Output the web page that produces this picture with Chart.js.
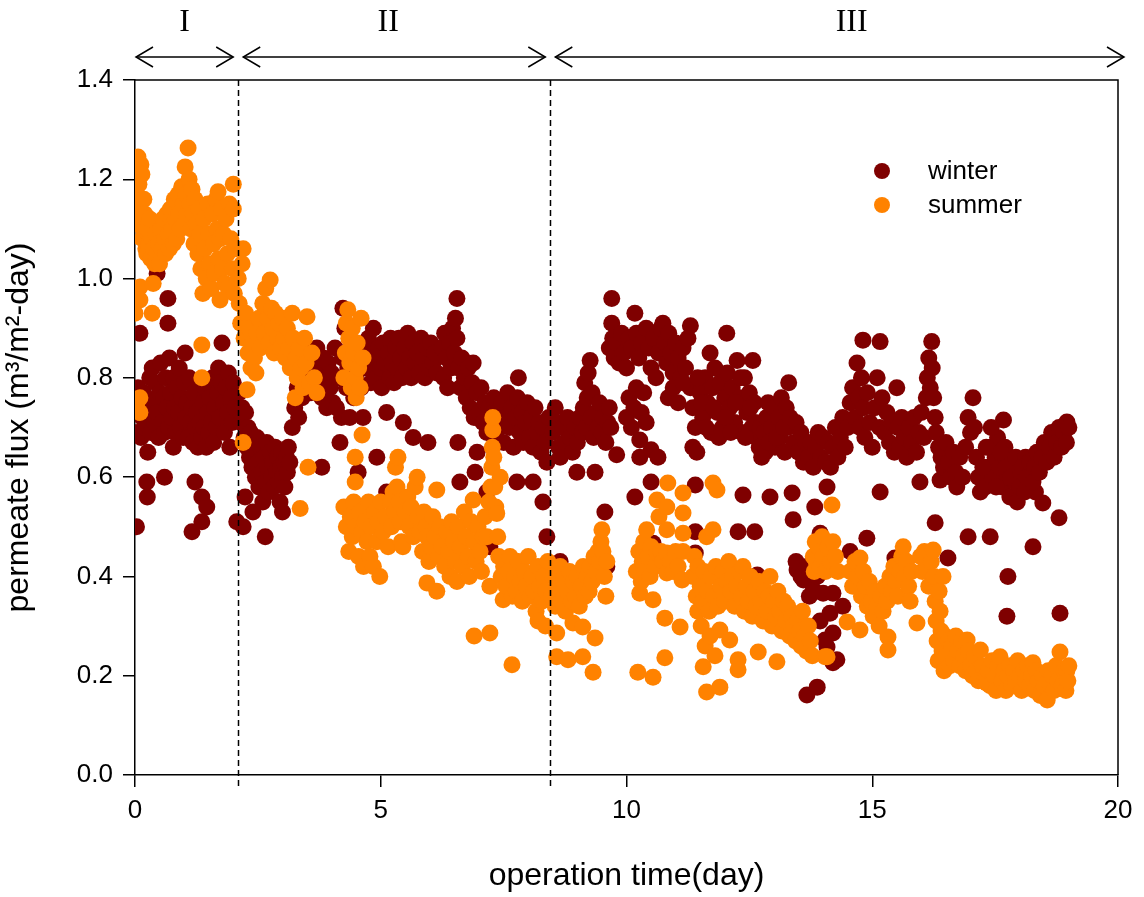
<!DOCTYPE html>
<html>
<head>
<meta charset="utf-8">
<script src="https://cdn.jsdelivr.net/npm/chart.js@4"></script>
<style>
  body { margin: 0; background: #fff; }
  canvas { display: block; }
</style>
</head>
<body>
<canvas id="fluxChart" width="1144" height="897"></canvas>
<script>
// stage boundaries (day) and labels
const stageBounds = [0, 2.1, 8.45, 20];
const stageNames = ["I", "II", "III"];
const xTicks = [0, 5, 10, 15, 20];
const yTicks = [0, 0.2, 0.4, 0.6, 0.8, 1.0, 1.2, 1.4];

// winter [day, flux]
const winterI = [[0.03,0.50],[0.05,0.69],[0.06,0.78],[0.1,0.89],[0.1,0.74],[0.12,0.68],[0.15,0.72],[0.18,0.77],[0.2,0.70],[0.24,0.59],[0.25,0.56],[0.26,0.65],[0.28,0.74],[0.3,0.80],[0.32,0.69],[0.35,0.82],[0.37,0.75],[0.4,0.71],[0.42,0.79],[0.45,1.01],[0.45,0.73],[0.48,0.68],[0.5,0.77],[0.52,0.83],[0.55,0.71],[0.58,0.76],[0.6,0.60],[0.6,0.69],[0.62,0.80],[0.65,0.74],[0.67,0.96],[0.67,0.91],[0.68,0.70],[0.7,0.84],[0.72,0.77],[0.75,0.72],[0.78,0.66],[0.78,0.80],[0.8,0.74],[0.82,0.69],[0.85,0.78],[0.88,0.73],[0.9,0.82],[0.92,0.70],[0.95,0.76],[0.98,0.68],[1.0,0.79],[1.02,0.85],[1.03,0.72],[1.05,0.75],[1.08,0.68],[1.1,0.80],[1.12,0.71],[1.15,0.74],[1.16,0.49],[1.18,0.67],[1.2,0.77],[1.22,0.59],[1.23,0.70],[1.25,0.73],[1.28,0.66],[1.3,0.79],[1.32,0.71],[1.35,0.68],[1.36,0.51],[1.36,0.56],[1.38,0.75],[1.4,0.70],[1.42,0.78],[1.45,0.66],[1.46,0.54],[1.48,0.73],[1.5,0.69],[1.52,0.76],[1.55,0.71],[1.58,0.80],[1.6,0.67],[1.62,0.74],[1.65,0.70],[1.68,0.77],[1.7,0.82],[1.72,0.72],[1.75,0.79],[1.77,0.87],[1.8,0.75],[1.82,0.69],[1.85,0.78],[1.88,0.73],[1.9,0.81],[1.93,0.66],[1.95,0.76],[1.98,0.71],[2.0,0.79],[2.03,0.74],[2.07,0.51]];

const winterII = [[2.12,0.77],[2.15,0.71],[2.18,0.74],[2.2,0.50],[2.22,0.68],[2.24,0.56],[2.25,0.73],[2.28,0.66],[2.3,0.70],[2.33,0.64],[2.35,0.69],[2.38,0.62],[2.4,0.53],[2.4,0.67],[2.43,0.65],[2.45,0.60],[2.48,0.68],[2.5,0.63],
  [2.52,0.58],[2.55,0.66],[2.58,0.61],[2.6,0.55],[2.62,0.64],[2.65,0.48],[2.65,0.59],[2.68,0.67],[2.7,0.62],[2.72,0.57],[2.75,0.65],[2.78,0.60],[2.8,0.63],[2.83,0.58],[2.85,0.66],[2.88,0.61],[2.9,0.64],[2.93,0.59],[2.95,0.55],[2.96,0.62],[2.98,0.65],[3.0,0.53],[3.0,0.60],[3.03,0.63],[3.05,0.58],[3.08,0.64],[3.1,0.61],[3.12,0.66],[3.15,0.63],
  [3.2,0.70],[3.25,0.74],[3.3,0.78],[3.33,0.72],[3.37,0.80],[3.4,0.76],[3.45,0.83],[3.48,0.79],[3.52,0.85],[3.55,0.81],[3.58,0.77],[3.62,0.84],[3.65,0.80],[3.7,0.86],[3.72,0.78],[3.75,0.82],[3.8,0.62],[3.8,0.76],[3.83,0.84],[3.87,0.80],[3.9,0.74],[3.93,0.83],[3.97,0.78],[4.0,0.81],[4.03,0.75],[4.07,0.86],[4.1,0.74],[4.12,0.80],[4.17,0.67],[4.2,0.72],[4.22,0.84],[4.23,0.94],[4.27,0.90],[4.3,0.78],[4.33,0.82],[4.37,0.72],[4.4,0.86],[4.45,0.76],[4.5,0.80],[4.54,0.61],[4.55,0.84],[4.6,0.78],[4.64,0.72],[4.65,0.86],
  [4.7,0.82],[4.75,0.88],[4.8,0.79],[4.85,0.90],[4.88,0.84],[4.92,0.64],[4.92,0.80],[4.95,0.86],[5.0,0.82],[5.02,0.78],[5.05,0.87],[5.08,0.83],[5.12,0.73],[5.12,0.57],[5.15,0.85],[5.18,0.80],[5.2,0.88],[5.23,0.83],[5.27,0.79],[5.3,0.86],[5.33,0.82],[5.37,0.88],[5.4,0.84],[5.43,0.80],[5.46,0.71],[5.48,0.86],[5.52,0.82],[5.55,0.89],[5.58,0.84],[5.62,0.80],[5.66,0.68],[5.66,0.87],[5.7,0.83],[5.74,0.85],[5.78,0.81],[5.82,0.88],[5.86,0.84],[5.9,0.80],[5.94,0.86],[5.96,0.67],[5.98,0.82],[6.02,0.87],[6.06,0.83],[6.1,0.85],[6.14,0.81],
  [6.25,0.86],[6.28,0.80],[6.3,0.89],[6.33,0.84],[6.36,0.78],[6.4,0.87],[6.43,0.82],[6.46,0.90],[6.5,0.85],[6.52,0.92],[6.55,0.96],[6.55,0.88],[6.57,0.67],[6.58,0.82],[6.61,0.59],[6.62,0.78],[6.65,0.84],
  [6.7,0.80],[6.74,0.76],[6.78,0.82],[6.82,0.74],[6.86,0.79],[6.88,0.83],[6.9,0.72],[6.92,0.61],[6.95,0.77],[6.96,0.65],[7.0,0.73],[7.04,0.78],[7.08,0.71],[7.12,0.75],[7.16,0.57],[7.16,0.69],[7.2,0.74],[7.22,0.46],[7.25,0.70],[7.3,0.76],[7.34,0.68],[7.38,0.73],[7.42,0.70],[7.46,0.75],[7.5,0.67],[7.54,0.72],[7.58,0.77],[7.62,0.70],[7.66,0.74],[7.7,0.66],[7.74,0.72],[7.77,0.59],[7.78,0.76],[7.8,0.80],[7.83,0.69],[7.87,0.73],[7.9,0.67],[7.94,0.71],[7.98,0.75],[8.02,0.68],[8.06,0.72],[8.1,0.59],[8.1,0.66],[8.14,0.74],[8.18,0.69],[8.22,0.71],[8.26,0.65],[8.3,0.55],[8.3,0.70],[8.34,0.67],[8.38,0.63],[8.38,0.48],[8.42,0.72]];

const winterIII = [[8.5,0.69],[8.55,0.74],[8.58,0.71],[8.62,0.66],[8.65,0.64],[8.65,0.43],[8.7,0.70],[8.75,0.67],[8.8,0.72],[8.85,0.68],[8.9,0.65],[8.95,0.70],[8.99,0.61],[9.0,0.67],[9.05,0.72],[9.1,0.69],
  [9.12,0.74],[9.15,0.79],[9.18,0.70],[9.2,0.76],[9.22,0.81],[9.26,0.835],[9.28,0.72],[9.3,0.77],[9.33,0.68],[9.36,0.61],[9.38,0.73],[9.42,0.70],[9.45,0.75],[9.5,0.69],[9.52,0.72],[9.56,0.53],[9.58,0.67],[9.6,0.42],[9.62,0.71],[9.65,0.74],[9.68,0.70],
  [9.65,0.86],[9.7,0.96],[9.7,0.91],[9.72,0.88],[9.75,0.84],[9.8,0.645],[9.8,0.87],[9.85,0.83],[9.9,0.89],[9.95,0.85],[10.0,0.82],[10.05,0.88],[10.1,0.86],[10.17,0.93],[10.17,0.56],[10.2,0.89],[10.25,0.84],[10.27,0.64],[10.27,0.675],[10.3,0.87],
  [10.0,0.72],[10.05,0.76],[10.1,0.70],[10.15,0.74],[10.2,0.78],[10.3,0.73],[10.35,0.77],[10.4,0.71],
  [10.4,0.90],[10.45,0.86],[10.5,0.82],[10.5,0.655],[10.5,0.59],[10.54,0.467],[10.55,0.88],[10.6,0.80],[10.64,0.64],[10.65,0.85],[10.7,0.90],[10.74,0.91],[10.78,0.87],[10.82,0.83],[10.86,0.89],[10.9,0.85],[10.95,0.81],[11.0,0.87],[11.05,0.84],[11.1,0.80],[11.15,0.86],[11.2,0.82],[11.25,0.88],[11.3,0.905],[11.3,0.78],[11.35,0.74],[11.35,0.66],[11.4,0.70],[11.4,0.584],[11.4,0.49],[11.4,0.447],[11.43,0.65],
  [10.85,0.76],[10.95,0.78],[11.05,0.75],[11.15,0.79],
  [11.5,0.77],[11.55,0.72],[11.6,0.80],[11.65,0.75],[11.7,0.85],[11.72,0.69],[11.75,0.78],[11.8,0.82],[11.85,0.73],[11.9,0.79],[11.95,0.70],[12.0,0.76],[12.04,0.89],[12.05,0.81],[12.1,0.74],[12.15,0.78],[12.2,0.71],[12.25,0.835],[12.27,0.49],[12.3,0.76],[12.35,0.69],[12.37,0.564],[12.4,0.80],[12.45,0.73],[12.5,0.77],[12.55,0.70],[12.57,0.835],[12.6,0.75],[12.61,0.49],[12.65,0.68],[12.66,0.403],[12.7,0.66],
  [11.45,0.80],[11.52,0.75],[11.62,0.70],[11.78,0.74],[11.88,0.68],[12.02,0.72],[12.12,0.69],[12.22,0.75],[12.32,0.80],[12.42,0.68],[12.52,0.74],[12.62,0.71],[12.72,0.70],[12.82,0.65],[12.88,0.75],[13.02,0.66],[13.12,0.68],[13.22,0.65],[13.28,0.70],
  [12.75,0.64],[12.8,0.69],[12.85,0.72],[12.9,0.67],[12.92,0.56],[12.95,0.70],[13.0,0.74],[13.05,0.68],[13.1,0.72],[13.15,0.76],[13.2,0.70],[13.25,0.74],[13.3,0.79],[13.33,0.72],[13.37,0.568],[13.39,0.514],[13.4,0.67],[13.45,0.71],[13.47,0.413],[13.5,0.65],[13.55,0.69],[13.6,0.63],[13.6,0.393],[13.65,0.67],[13.67,0.161],[13.7,0.64],
  [13.45,0.43],[13.55,0.40],[13.67,0.42],[13.72,0.36],[13.8,0.373],[13.88,0.40],[13.94,0.31],[14.0,0.366],[14.08,0.258],[14.2,0.366],[14.2,0.286],[14.28,0.232],[14.4,0.34],
  [13.75,0.67],[13.8,0.62],[13.83,0.54],[13.85,0.66],[13.88,0.177],[13.9,0.69],[13.94,0.487],[13.95,0.64],[14.0,0.68],[14.04,0.272],[14.05,0.63],[14.08,0.58],[14.1,0.67],[14.14,0.326],[14.15,0.62],[14.2,0.226],[14.2,0.66],[14.25,0.70],[14.3,0.64],[14.35,0.68],[14.4,0.72],[14.45,0.66],[14.5,0.70],[14.55,0.45],[14.55,0.75],
  [14.6,0.78],[14.65,0.72],[14.69,0.83],[14.72,0.76],[14.75,0.70],[14.78,0.80],[14.81,0.876],[14.82,0.74],[14.85,0.68],[14.89,0.477],[14.9,0.77],[14.95,0.71],[15.0,0.66],[15.05,0.74],[15.1,0.80],[15.15,0.70],[15.16,0.873],[15.16,0.57],[15.2,0.76],
  [15.25,0.69],[15.3,0.73],[15.35,0.67],[15.4,0.71],[15.46,0.437],[15.45,0.65],[15.5,0.78],[15.52,0.70],[15.55,0.66],[15.6,0.72],[15.65,0.68],[15.7,0.64],[15.75,0.70],[15.8,0.67],[15.85,0.72],[15.9,0.65],[15.95,0.69],[15.97,0.59],[16.0,0.73],[16.05,0.68],[16.1,0.76],
  [16.12,0.80],[16.15,0.84],[16.18,0.78],[16.21,0.873],[16.22,0.82],[16.25,0.76],[16.28,0.508],[16.28,0.72],[16.3,0.69],[16.35,0.66],[16.38,0.594],[16.4,0.64],
  [16.45,0.62],[16.5,0.67],[16.54,0.437],[16.55,0.63],[16.6,0.60],[16.65,0.65],[16.7,0.61],[16.72,0.58],[16.78,0.64],[16.84,0.60],[16.9,0.66],[16.95,0.72],[16.95,0.48],[17.0,0.69],[17.05,0.76],[17.08,0.70],[17.12,0.64],[17.16,0.60],[17.2,0.57],
  [17.3,0.58],[17.35,0.62],[17.4,0.48],[17.4,0.66],[17.45,0.60],[17.5,0.64],[17.55,0.68],[17.6,0.62],[17.65,0.58],[17.67,0.715],[17.7,0.66],[17.74,0.32],[17.75,0.60],[17.76,0.40],[17.8,0.56],[17.85,0.63],[17.9,0.59],[17.95,0.55],
  [17.25,0.62],[17.32,0.66],[17.42,0.70],[17.52,0.58],[17.62,0.65],[17.72,0.62],[17.82,0.60],[17.92,0.64],[18.02,0.61],[18.12,0.64],[18.22,0.58],[18.32,0.57],
  [18.0,0.58],[18.05,0.62],[18.1,0.57],[18.15,0.60],[18.2,0.63],[18.27,0.46],[18.27,0.59],[18.3,0.62],[18.35,0.65],[18.4,0.61],[18.45,0.64],[18.47,0.548],[18.5,0.67],[18.55,0.63],[18.6,0.66],[18.65,0.69],[18.7,0.64],[18.75,0.67],[18.8,0.518],[18.8,0.70],[18.82,0.326],[18.85,0.66],[18.9,0.69],[18.96,0.711],[18.95,0.67],[19.0,0.70]];

// summer [day, flux]
const summerI = [[0.0,0.93],[0.02,1.17],[0.03,1.21],[0.04,0.75],[0.05,1.14],[0.06,1.245],[0.08,1.19],[0.1,0.983],[0.1,0.957],[0.1,0.76],[0.1,0.73],[0.1,1.11],[0.12,1.23],[0.14,1.21],[0.15,1.08],[0.17,1.098],[0.18,1.16],[0.2,1.13],[0.22,1.06],[0.24,1.05],[0.25,1.10],[0.28,1.07],[0.3,1.12],[0.32,1.04],[0.35,0.93],[0.35,1.08],[0.37,0.99],[0.38,1.06],[0.4,1.03],[0.42,1.09],[0.45,1.05],[0.48,1.07],[0.5,1.03],[0.52,1.10],[0.55,1.06],[0.57,1.12],[0.6,1.08],[0.62,1.05],[0.65,1.13],[0.68,1.09],[0.7,1.06],[0.72,1.14],[0.75,1.10],[0.78,1.07],[0.8,1.16],[0.82,1.12],[0.85,1.08],[0.88,1.17],[0.9,1.13],[0.92,1.10],[0.95,1.185],[0.98,1.15],[1.0,1.11],[1.02,1.225],[1.04,1.17],[1.06,1.13],[1.08,1.263],[1.1,1.20],[1.12,1.15],[1.14,1.10],[1.16,1.18],[1.18,1.13],[1.2,1.07],[1.22,1.16],[1.25,1.11],[1.28,1.05],[1.3,1.14],[1.32,1.09],[1.34,1.02],[1.36,0.866],[1.36,0.80],[1.38,0.97],[1.4,1.12],[1.42,1.06],[1.45,1.00],[1.48,1.15],[1.5,1.09],[1.52,1.03],[1.55,0.98],[1.58,1.13],[1.6,1.07],[1.62,1.01],[1.65,1.16],[1.67,1.10],[1.69,1.175],[1.7,1.04],[1.73,0.957],[1.73,1.08],[1.76,1.14],[1.78,1.02],[1.8,1.09],[1.83,0.99],[1.85,1.12],[1.88,1.05],[1.9,0.98],[1.92,1.15],[1.95,1.08],[1.98,1.02],[2.0,1.19],[2.0,1.14],[2.02,0.97],[2.05,1.06]];

const summerII = [[2.1,1.00],[2.12,0.95],[2.15,0.91],[2.18,1.03],[2.2,1.06],[2.2,0.67],[2.22,0.88],[2.25,0.93],[2.28,0.776],[2.3,0.85],[2.33,0.90],[2.36,0.82],[2.4,0.87],[2.43,0.84],[2.46,0.81],[2.48,0.89],
  [2.52,0.92],[2.55,0.86],[2.6,0.95],[2.63,0.89],[2.66,0.98],[2.7,0.92],[2.73,0.87],[2.75,0.997],[2.78,0.94],[2.8,0.90],[2.83,0.85],[2.86,0.93],[2.9,0.88],[2.93,0.91],[2.96,0.86],[3.0,0.92],[3.03,0.88],[3.06,0.84],[3.1,0.90],[3.13,0.86],[3.16,0.82],[3.2,0.93],[3.22,0.88],[3.26,0.76],[3.28,0.84],[3.3,0.80],
  [3.34,0.86],[3.36,0.537],[3.38,0.82],[3.42,0.78],[3.45,0.88],[3.48,0.83],[3.5,0.923],[3.52,0.62],[3.55,0.79],[3.6,0.85],[3.65,0.80],[3.7,0.77],
  [4.25,0.80],[4.28,0.85],[4.3,0.91],[4.33,0.937],[4.35,0.88],[4.37,0.83],[4.4,0.78],[4.42,0.90],[4.45,0.85],[4.48,0.80],[4.5,0.76],[4.52,0.87],[4.55,0.82],[4.58,0.78],[4.6,0.92],[4.62,0.685],[4.64,0.84],
  [4.25,0.54],[4.3,0.50],[4.35,0.45],[4.38,0.52],[4.42,0.48],[4.45,0.55],[4.48,0.64],[4.48,0.59],[4.5,0.50],[4.55,0.44],[4.58,0.53],[4.62,0.49],[4.65,0.42],[4.68,0.51],[4.72,0.47],[4.75,0.55],[4.78,0.44],[4.8,0.50],[4.85,0.42],[4.88,0.53],[4.92,0.47],[4.95,0.51],[4.98,0.40],[5.0,0.55],[5.05,0.49],[5.1,0.52],[5.15,0.46],[5.2,0.55],[5.22,0.50],[5.25,0.57],[5.28,0.53],[5.3,0.62],[5.33,0.58],[5.35,0.64],[5.38,0.55],[5.4,0.51],[5.42,0.47],[5.45,0.46],[5.5,0.53],[5.55,0.56],[5.58,0.50],[5.62,0.54],[5.66,0.48],[5.7,0.58],[5.74,0.60],[5.76,0.52],[5.8,0.49],[5.85,0.45],[5.88,0.53],[5.92,0.50],[5.94,0.48],[5.94,0.387],[5.98,0.43],[6.02,0.46],[6.06,0.52],[6.1,0.48],[6.14,0.574],[6.14,0.37],[6.18,0.44],[6.2,0.50],[6.25,0.46],
  [6.3,0.42],[6.34,0.49],[6.38,0.45],[6.41,0.40],[6.44,0.51],[6.48,0.47],[6.52,0.43],[6.55,0.39],[6.58,0.50],[6.62,0.46],[6.66,0.42],[6.7,0.53],[6.74,0.48],[6.78,0.44],[6.8,0.40],[6.84,0.51],[6.88,0.554],[6.9,0.47],[6.9,0.28],[6.94,0.43],[6.98,0.50],[7.02,0.45],[7.05,0.41],[7.08,0.48],
  [7.12,0.52],[7.16,0.48],[7.2,0.55],[7.22,0.38],[7.22,0.286],[7.24,0.58],[7.26,0.62],[7.27,0.66],[7.28,0.695],[7.28,0.72],[7.3,0.64],[7.32,0.58],[7.34,0.54],[7.36,0.527],[7.38,0.48],[7.4,0.44],[7.43,0.60],
  [7.45,0.40],[7.49,0.353],[7.5,0.42],[7.55,0.38],[7.6,0.41],[7.63,0.44],[7.67,0.222],[7.68,0.36],[7.72,0.40],[7.76,0.37],[7.8,0.43],[7.84,0.39],[7.88,0.35],[7.92,0.41],[7.96,0.38],[8.0,0.44],[8.04,0.36],[8.08,0.40],[8.12,0.37],[8.16,0.33],[8.2,0.42],[8.2,0.31],[8.24,0.38],[8.28,0.35],[8.32,0.40],[8.35,0.30],[8.36,0.37],[8.4,0.43]];

const summerIII = [[8.48,0.36],[8.5,0.40],[8.55,0.34],[8.58,0.286],[8.58,0.238],[8.6,0.38],[8.65,0.42],[8.68,0.35],[8.72,0.39],[8.76,0.33],[8.8,0.37],[8.81,0.232],[8.84,0.41],[8.88,0.35],[8.91,0.306],[8.92,0.39],[8.96,0.36],[9.0,0.40],[9.04,0.34],[9.08,0.38],[9.11,0.298],[9.11,0.238],[9.12,0.42],[9.16,0.36],[9.2,0.40],[9.24,0.37],[9.26,0.42],[9.3,0.39],[9.32,0.207],[9.34,0.44],[9.36,0.276],[9.38,0.41],[9.42,0.45],[9.46,0.43],[9.48,0.47],[9.5,0.494],[9.52,0.45],[9.55,0.40],[9.58,0.36],[9.6,0.43],
  [10.2,0.41],[10.23,0.207],[10.25,0.45],[10.27,0.366],[10.3,0.39],[10.32,0.43],[10.35,0.47],[10.38,0.41],[10.41,0.494],[10.44,0.44],[10.48,0.40],[10.5,0.46],[10.54,0.353],[10.54,0.197],[10.58,0.42],[10.62,0.554],[10.62,0.447],[10.66,0.52],[10.7,0.45],[10.74,0.43],[10.78,0.316],[10.78,0.236],[10.82,0.447],[10.82,0.494],[10.82,0.54],[10.82,0.407],[10.84,0.588],[10.9,0.43],[10.95,0.41],[11.0,0.45],[11.05,0.42],[11.09,0.298],[11.13,0.393],[11.15,0.568],[11.15,0.528],[11.15,0.487],[11.15,0.45],
  [11.35,0.40],[11.38,0.44],[11.42,0.36],[11.45,0.33],[11.45,0.42],[11.5,0.38],[11.52,0.30],[11.55,0.35],[11.56,0.218],[11.58,0.41],[11.6,0.26],[11.63,0.48],[11.63,0.167],[11.65,0.37],[11.68,0.33],[11.7,0.28],[11.72,0.40],[11.76,0.588],[11.76,0.494],[11.78,0.36],[11.8,0.24],[11.82,0.42],[11.84,0.574],[11.86,0.34],[11.9,0.292],[11.9,0.177],[11.92,0.38],[11.96,0.41],[12.0,0.35],[12.04,0.39],[12.08,0.43],[12.1,0.272],
  [12.12,0.37],[12.16,0.40],[12.2,0.34],[12.24,0.38],[12.27,0.232],[12.27,0.212],[12.3,0.41],[12.34,0.36],[12.37,0.42],[12.4,0.33],[12.44,0.38],[12.48,0.35],[12.52,0.40],[12.56,0.32],[12.6,0.37],[12.64,0.34],[12.68,0.248],[12.7,0.39],[12.74,0.35],[12.78,0.31],[12.82,0.37],[12.86,0.33],[12.9,0.36],[12.92,0.40],[12.96,0.30],[13.0,0.35],[13.04,0.32],[13.06,0.228],[13.08,0.37],[13.12,0.33],[13.16,0.29],[13.2,0.35],[13.24,0.31],[13.28,0.34],[13.32,0.28],[13.36,0.32],[13.4,0.30],[13.44,0.27],[13.48,0.31],
  [13.52,0.29],[13.55,0.26],[13.58,0.33],[13.62,0.28],[13.66,0.25],[13.7,0.30],[13.74,0.27],[13.78,0.24],[13.8,0.44],[13.82,0.41],[13.84,0.47],[13.86,0.43],[13.9,0.46],[13.94,0.42],[13.98,0.48],[14.0,0.44],[14.04,0.238],[14.05,0.41],[14.08,0.238],[14.1,0.46],[14.15,0.43],[14.18,0.544],[14.2,0.47],[14.25,0.44],[14.3,0.41],
  [14.49,0.308],[14.55,0.41],[14.6,0.38],[14.65,0.43],[14.7,0.40],[14.75,0.437],[14.75,0.292],[14.78,0.36],[14.82,0.41],[14.86,0.38],[14.9,0.34],[14.94,0.39],[14.98,0.35],[15.02,0.32],[15.06,0.37],[15.1,0.34],[15.14,0.30],[15.18,0.36],[15.22,0.33],[15.26,0.38],[15.3,0.35],[15.32,0.278],[15.32,0.252],[15.36,0.40],[15.4,0.37],[15.44,0.42],[15.48,0.39],[15.52,0.36],[15.56,0.41],[15.6,0.44],[15.63,0.46],[15.66,0.40],[15.7,0.43],[15.74,0.38],[15.77,0.35],[15.8,0.41],[15.91,0.306],
  [15.98,0.44],[16.02,0.41],[16.06,0.45],[16.1,0.42],[16.15,0.38],[16.2,0.43],[16.24,0.453],[16.26,0.40],[16.28,0.35],[16.3,0.31],[16.32,0.27],[16.34,0.23],[16.36,0.37],[16.38,0.33],[16.4,0.29],[16.42,0.25],[16.44,0.40],[16.46,0.21],[16.48,0.28],[16.5,0.24],[16.55,0.27],[16.58,0.22],
  [16.62,0.26],[16.66,0.23],[16.7,0.28],[16.74,0.25],[16.78,0.22],[16.82,0.27],[16.86,0.24],[16.9,0.21],[16.93,0.272],[16.96,0.25],[17.0,0.22],[17.04,0.20],[17.08,0.24],[17.12,0.21],[17.16,0.19],[17.2,0.252],[17.24,0.22],[17.28,0.19],[17.33,0.185],[17.36,0.21],[17.4,0.18],[17.44,0.23],[17.48,0.20],[17.52,0.17],[17.56,0.22],[17.6,0.238],[17.64,0.19],[17.68,0.21],[17.72,0.17],[17.76,0.20],[17.8,0.22],[17.84,0.18],[17.88,0.21],[17.92,0.19],[17.96,0.23],[18.0,0.20],[18.04,0.17],[18.08,0.21],[18.12,0.19],[18.16,0.22],[18.2,0.18],[18.24,0.20],[18.27,0.226],[18.3,0.17],[18.34,0.21],[18.38,0.19],[18.42,0.16],[18.46,0.20],[18.5,0.18],[18.56,0.151],[18.58,0.21],[18.62,0.18],[18.66,0.20],[18.7,0.17],[18.74,0.22],[18.78,0.19],[18.82,0.248],[18.86,0.18],[18.9,0.21],[18.94,0.17],[18.96,0.21],[18.98,0.19],[19.0,0.22]];

const toPoints = arr => arr.map(p => ({ x: p[0], y: p[1] }));
const FONT = "'Liberation Sans', Arial, sans-serif";

// box, dashed stage lines, stage arrows, legend
const decorations = {
  id: "decorations",
  afterDraw(chart) {
    const { ctx, chartArea: a, scales } = chart;
    const xs = scales.x;
    ctx.save();
    ctx.strokeStyle = "#000";
    ctx.lineWidth = 1.5;
    // top and right edges of the frame
    ctx.beginPath();
    ctx.moveTo(a.left, a.top);
    ctx.lineTo(a.right, a.top);
    ctx.lineTo(a.right, a.bottom);
    ctx.stroke();

    // dashed lines at stage changes
    ctx.setLineDash([6, 4]);
    stageBounds.slice(1, -1).forEach(d => {
      const px = Math.round(xs.getPixelForValue(d)) + 0.5;
      ctx.beginPath();
      ctx.moveTo(px, a.top);
      ctx.lineTo(px, a.bottom + 14);
      ctx.stroke();
    });
    ctx.setLineDash([]);

    // stage arrows
    const ay = a.top - 23;
    const head = (x, dir) => {
      ctx.beginPath();
      ctx.moveTo(x + dir * 17, ay - 10);
      ctx.lineTo(x, ay);
      ctx.lineTo(x + dir * 17, ay + 10);
      ctx.stroke();
    };
    ctx.font = "32px 'Liberation Serif', 'Times New Roman', serif";
    ctx.fillStyle = "#000";
    ctx.textAlign = "center";
    ctx.textBaseline = "middle";
    stageNames.forEach((name, i) => {
      const x0 = xs.getPixelForValue(stageBounds[i]) + (i === 0 ? 1 : 5);
      const x1 = xs.getPixelForValue(stageBounds[i + 1]) + (i === stageNames.length - 1 ? 6 : -5);
      ctx.beginPath();
      ctx.moveTo(x0, ay);
      ctx.lineTo(x1, ay);
      ctx.stroke();
      head(x0, 1);
      head(x1, -1);
      ctx.fillText(name, (x0 + x1) / 2 + (i === 2 ? 12 : (i === 1 ? -6 : 0)), a.top - 57);
    });

    // legend
    ctx.font = "26px " + FONT;
    ctx.textAlign = "left";
    chart.data.datasets.forEach((ds, i) => {
      const ly = a.top + 91 + i * 34;
      const lx = a.right - 236;
      ctx.beginPath();
      ctx.arc(lx, ly, 8, 0, Math.PI * 2);
      ctx.fillStyle = ds.backgroundColor;
      ctx.fill();
      ctx.fillStyle = "#000";
      ctx.fillText(ds.label, lx + 46, ly + 1);
    });
    ctx.restore();
  }
};

new Chart(document.getElementById("fluxChart"), {
  type: "scatter",
  data: {
    datasets: [
      {
        label: "winter",
        data: toPoints([...winterI, ...winterII, ...winterIII]),
        backgroundColor: "#7f0000",
        borderWidth: 0,
        pointRadius: 8.5,
        pointHoverRadius: 8.5,
        order: 1
      },
      {
        label: "summer",
        data: toPoints([...summerI, ...summerII, ...summerIII]),
        backgroundColor: "#ff8200",
        borderWidth: 0,
        pointRadius: 8.5,
        pointHoverRadius: 8.5,
        order: 0
      }
    ]
  },
  options: {
    responsive: false,
    animation: false,
    layout: { padding: { top: 80, right: 26, left: 0, bottom: 0 } },
    plugins: {
      legend: { display: false },
      tooltip: { enabled: false }
    },
    scales: {
      x: {
        type: "linear",
        min: 0,
        max: 20,
        afterFit: s => { s.height = 122; },
        afterBuildTicks: s => { s.ticks = xTicks.map(v => ({ value: v })); },
        ticks: { color: "#000", font: { family: FONT, size: 26 }, padding: 8, maxRotation: 0 },
        grid: { drawOnChartArea: false, drawTicks: true, tickLength: 12, color: "#000", lineWidth: 1.5 },
        border: { display: true, color: "#000", width: 1.5 },
        title: {
          display: true,
          text: "operation time(day)",
          color: "#000",
          font: { family: FONT, size: 32 },
          padding: { top: 0, bottom: 2 }
        }
      },
      y: {
        type: "linear",
        min: 0,
        max: 1.4,
        afterFit: s => { s.width = 135; },
        afterBuildTicks: s => { s.ticks = yTicks.map(v => ({ value: v })); },
        ticks: { color: "#000", font: { family: FONT, size: 26 }, padding: 10, callback: v => v.toFixed(1) },
        grid: { drawOnChartArea: false, drawTicks: true, tickLength: 12, color: "#000", lineWidth: 1.5 },
        border: { display: true, color: "#000", width: 1.5 },
        title: {
          display: true,
          text: "permeate flux (m³/m²-day)",
          color: "#000",
          font: { family: FONT, size: 32 },
          padding: { top: 0, bottom: 16 }
        }
      }
    }
  },
  plugins: [decorations]
});
</script>
</body>
</html>
